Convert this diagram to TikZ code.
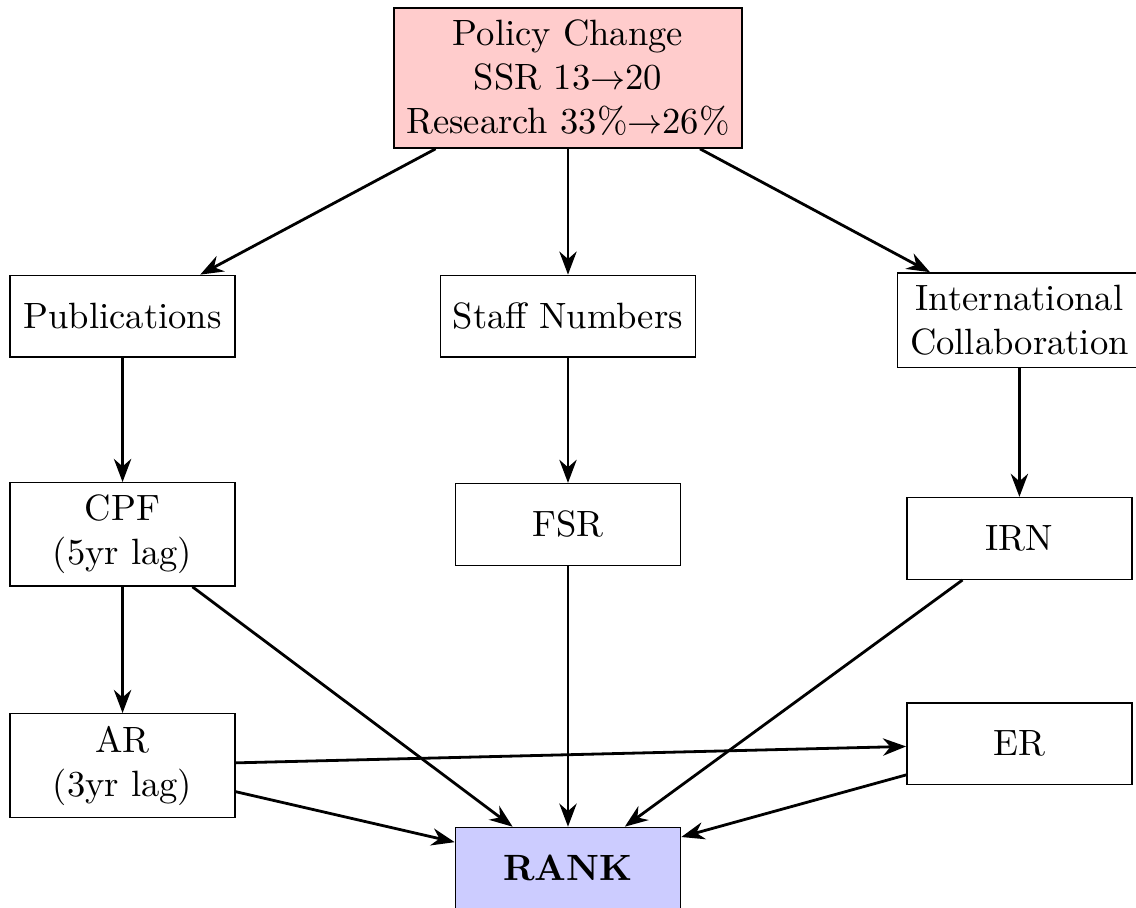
\documentclass[tikz,border=0pt]{standalone}
\usepackage{amsmath}
\usepackage{tikz}
\usetikzlibrary{shapes, arrows.meta, positioning}
\tikzstyle{block} = [draw, fill=white, rectangle, align=center, inner sep=3.5pt, minimum width=2.26cm, minimum height=0.82cm, font=\fontsize{10.45}{12.54}\selectfont]

\begin{document}
\begin{tikzpicture}[>={Stealth}]
    \useasboundingbox (-5.70,0.783) rectangle (5.70,-8.326);
    \node[block, fill=red!20] (policy) {Policy Change\\SSR 13$\rightarrow$20\\Research 33\%$\rightarrow$26\%};
    \node[block, below of=policy, node distance=2.39cm] (staff) {Staff Numbers};
    \node[block, left of=staff, node distance=4.47cm] (pubs) {Publications};
    \node[block, right of=staff, node distance=4.53cm, yshift=-0.4mm] (intl) {International\\Collaboration};
    \node[block, below of=pubs, node distance=2.19cm] (cpf) {CPF\\(5yr lag)};
    \node[block, below of=staff, node distance=2.09cm] (fsr) {FSR};
    \node[block, below of=intl, node distance=2.19cm] (irn) {IRN};
    \node[block, below of=cpf, node distance=2.32cm] (ar) {AR\\(3yr lag)};
    \node[block, below of=irn, node distance=2.06cm] (er) {ER};
    \node[block, fill=blue!20, below of=fsr, node distance=3.45cm] (rank) {\textbf{RANK}};
    \draw[->, thick] (policy) -- (pubs);
    \draw[->, thick] (policy) -- (staff);
    \draw[->, thick] (policy) -- (intl);
    \draw[->, thick] (pubs) -- (cpf);
    \draw[->, thick] (staff) -- (fsr);
    \draw[->, thick] (intl) -- (irn);
    \draw[->, thick] (cpf) -- (ar);
    \draw[->, thick] (cpf) -- (rank);
    \draw[->, thick] (fsr) -- (rank);
    \draw[->, thick] (irn) -- (rank);
    \draw[->, thick] (ar) -- (er);
    \draw[->, thick] (ar) -- (rank);
    \draw[->, thick] (er) -- (rank);
\end{tikzpicture}
\end{document}
